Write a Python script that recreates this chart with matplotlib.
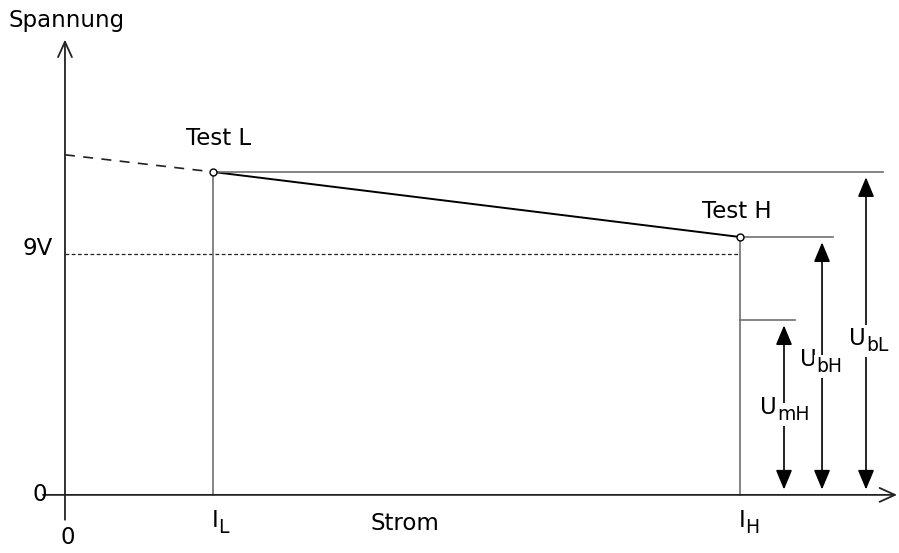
import matplotlib
matplotlib.use("Agg")
import matplotlib.pyplot as plt
from matplotlib.transforms import offset_copy

plt.rcParams['font.family'] = ['DejaVu Sans']
plt.rcParams['mathtext.default'] = 'regular'

# --- data (current in units of I_L, voltage in V) ---
I_points = [1.0, 4.56]          # I_L, I_H
U_points = [12.06, 9.63]        # Test L, Test H
point_labels = ["Test L", "Test H"]
U_extrap0 = 12.70               # dashed extrapolation at I = 0
U_nominal = 9.0                 # 9V reference
U_mH_level = 6.53               # level of U_mH
tick_subs_x = ["L", "H"]

x_left, x_right = -0.439, 5.635
y_bottom, y_top = -2.17, 18.48

fig = plt.figure(figsize=(8.99, 5.53), dpi=100)
ax = fig.add_axes([0, 0, 1, 1])
ax.set_xlim(x_left, x_right)
ax.set_ylim(y_bottom, y_top)
ax.axis('off')

axc = '#222222'
gray = '#707070'
fs = 16.5
fss = 13.5

# axes with open arrowheads
ax.annotate('', xy=(0, 17.0), xytext=(0, -0.93),
            arrowprops=dict(arrowstyle='->,head_length=1.1,head_width=0.5', lw=1.3, color=axc, shrinkA=0, shrinkB=0))
ax.annotate('', xy=(5.622, 0), xytext=(-0.149, 0),
            arrowprops=dict(arrowstyle='->,head_length=1.1,head_width=0.5', lw=1.3, color=axc, shrinkA=0, shrinkB=0))

# dashed extrapolation
ax.plot([0, I_points[0]], [U_extrap0, U_points[0]], color=axc, lw=1.2, ls=(0, (6, 5)))
# load line
ax.plot(I_points, U_points, color='black', lw=1.4)
# 9V dashed line
ax.plot([0, I_points[1]], [U_nominal, U_nominal], color=axc, lw=0.9, ls=(0, (3, 2)))

# verticals at I_L, I_H
for xi, ui in zip(I_points, U_points):
    ax.plot([xi, xi], [0, ui], color=gray, lw=1.2)

# horizontal reference lines
ax.plot([I_points[0], 5.527], [U_points[0], U_points[0]], color=gray, lw=1.2)
ax.plot([I_points[1], 5.189], [U_points[1], U_points[1]], color=gray, lw=1.2)
ax.plot([I_points[1], 4.932], [U_mH_level, U_mH_level], color=gray, lw=1.2)

# markers
ax.plot(I_points, U_points, 'o', ms=5, mfc='white', mec='black', mew=1.0, zorder=5)


def sub_label(x, y, main, sub, dx_pt, bg=False):
    """Main text right-aligned at anchor (shifted by dx_pt), subscript left-aligned after it."""
    bb = dict(facecolor='white', edgecolor='none', pad=1.5) if bg else None
    t1 = offset_copy(ax.transData, fig=fig, x=dx_pt, y=0, units='points')
    t2 = offset_copy(ax.transData, fig=fig, x=dx_pt, y=-5, units='points')
    ax.text(x, y, main, fontsize=fs, ha='right', va='center', transform=t1, bbox=bb, zorder=6)
    ax.text(x, y, sub, fontsize=fss, ha='left', va='center', transform=t2, bbox=bb, zorder=6)


# double arrows
arrows = [(4.858, U_mH_level, "U", "mH", 3.1, -5),
          (5.115, U_points[1], "U", "bH", 4.9, -4),
          (5.412, U_points[0], "U", "bL", 5.7, 0)]
for xa, top, m, s, ly, dx in arrows:
    ax.annotate('', xy=(xa, top - 0.2), xytext=(xa, 0.2),
                arrowprops=dict(arrowstyle='<|-|>,head_length=1.2,head_width=0.5', lw=1.2,
                                color='black', shrinkA=0, shrinkB=0))
    sub_label(xa, ly + 0.15, m, s, dx, bg=True)

# texts
ax.text(-0.38, 17.7, "Spannung", fontsize=fs, ha='left', va='center')
ax.text(I_points[0] + 0.04, 13.3, point_labels[0], fontsize=fs, ha='center', va='center')
ax.text(I_points[1] - 0.02, 10.6, point_labels[1], fontsize=fs, ha='center', va='center')
ax.text(-0.08, 9.2, "9V", fontsize=fs, ha='right', va='center')
ax.text(-0.12, 0, "0", fontsize=fs, ha='right', va='center')
ax.text(0.02, -1.6, "0", fontsize=fs, ha='center', va='center')
for xi, s in zip(I_points, tick_subs_x):
    sub_label(xi, -0.95, "I", s, 4)
ax.text(2.3, -1.05, "Strom", fontsize=fs, ha='center', va='center')

fig.savefig('out.png', dpi=100)
